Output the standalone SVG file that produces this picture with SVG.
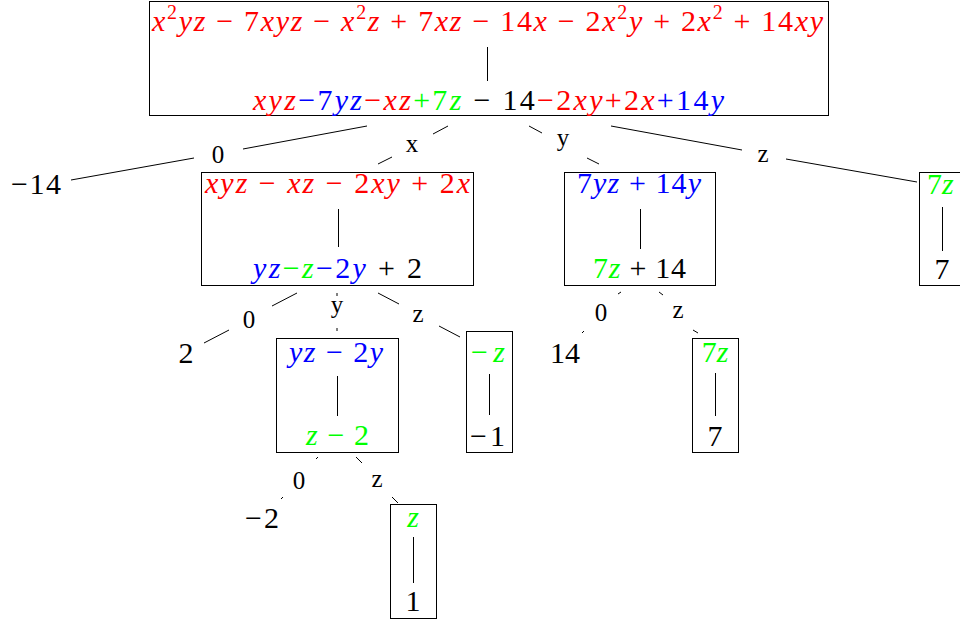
<svg xmlns="http://www.w3.org/2000/svg" width="960" height="623" viewBox="0 0 960 623">
<style>
.bx{fill:none;stroke:#000;stroke-width:1}
.e line,.bar{stroke:#000;stroke-width:1}
text{font-family:"Liberation Serif",serif;font-size:30px;fill:#000}
.i{font-style:italic}
.l{font-size:25px}
.r{fill:#f00}.b{fill:#00f}.g{fill:#0f0}.k{fill:#000}
.s{font-size:20px}
</style>
<rect width="960" height="623" fill="#fff"/>
<g id="connectors" class="e">
<line x1="367" y1="126" x2="243" y2="149"/><line x1="194" y1="158" x2="71" y2="180"/>
<line x1="448" y1="126" x2="433" y2="134"/><line x1="392" y1="157" x2="378" y2="164"/>
<line x1="529" y1="126" x2="542" y2="133"/><line x1="587" y1="158" x2="599" y2="164"/>
<line x1="611" y1="126" x2="742" y2="150"/><line x1="786" y1="159" x2="917" y2="182"/>
<line x1="297" y1="293" x2="272" y2="306"/><line x1="229" y1="330" x2="204" y2="343"/>
<line x1="337" y1="293" x2="337" y2="296"/><line x1="337" y1="328" x2="337" y2="331"/>
<line x1="378" y1="293" x2="399" y2="304"/><line x1="439" y1="326" x2="460" y2="337"/>
<line x1="621" y1="292" x2="618" y2="294"/><line x1="584" y1="331" x2="582" y2="333"/>
<line x1="659" y1="292" x2="663" y2="295"/><line x1="693" y1="330" x2="698" y2="333"/>
<line x1="318" y1="457" x2="316" y2="459"/><line x1="283" y1="497" x2="281" y2="499"/>
<line x1="356" y1="457" x2="362" y2="463"/><line x1="392" y1="497" x2="398" y2="503"/>
<text class="l" x="218" y="163" text-anchor="middle">0</text>
<text class="l" x="412" y="152" text-anchor="middle">x</text>
<text class="l" x="563" y="146" text-anchor="middle">y</text>
<text class="l" x="763" y="162" text-anchor="middle">z</text>
<text class="l" x="249" y="328" text-anchor="middle">0</text>
<text class="l" x="337" y="313" text-anchor="middle">y</text>
<text class="l" x="418" y="322" text-anchor="middle">z</text>
<text class="l" x="601" y="321" text-anchor="middle">0</text>
<text class="l" x="678" y="318" text-anchor="middle">z</text>
<text class="l" x="299" y="489" text-anchor="middle">0</text>
<text class="l" x="377" y="487" text-anchor="middle">z</text>
</g>
<g id="root">
<rect class="bx" x="149.5" y="1.5" width="679" height="114"/>
<line class="bar" x1="487.5" y1="47" x2="487.5" y2="81"/>
<text class="r" x="152" y="31" textLength="671" lengthAdjust="spacing"><tspan class="i">x</tspan><tspan class="s" dy="-12">2</tspan><tspan class="i" dy="12">yz</tspan> − 7<tspan class="i">xyz</tspan> − <tspan class="i">x</tspan><tspan class="s" dy="-12">2</tspan><tspan class="i" dy="12">z</tspan> + 7<tspan class="i">xz</tspan> − 14<tspan class="i">x</tspan> − 2<tspan class="i">x</tspan><tspan class="s" dy="-12">2</tspan><tspan class="i" dy="12">y</tspan> + 2<tspan class="i">x</tspan><tspan class="s" dy="-12">2</tspan><tspan dy="12"> + 14</tspan><tspan class="i">xy</tspan></text>
<text x="253" y="110" textLength="471" lengthAdjust="spacing"><tspan class="r i">xyz</tspan><tspan class="b">−7</tspan><tspan class="b i">yz</tspan><tspan class="r">−</tspan><tspan class="r i">xz</tspan><tspan class="g">+7</tspan><tspan class="g i">z</tspan><tspan class="k"> − 14</tspan><tspan class="r">−2</tspan><tspan class="r i">xy</tspan><tspan class="r">+2</tspan><tspan class="r i">x</tspan><tspan class="b">+14</tspan><tspan class="b i">y</tspan></text>
</g>
<g id="leaf-m14"><text x="11" y="194" textLength="50" lengthAdjust="spacing">−14</text></g>
<g id="nodeA">
<rect class="bx" x="201.5" y="172.5" width="272" height="113"/>
<line class="bar" x1="338.5" y1="209" x2="338.5" y2="247"/>
<text class="r" x="205" y="193" textLength="265" lengthAdjust="spacing"><tspan class="i">xyz</tspan> − <tspan class="i">xz</tspan> − 2<tspan class="i">xy</tspan> + 2<tspan class="i">x</tspan></text>
<text x="253" y="278" textLength="169" lengthAdjust="spacing"><tspan class="b i">yz</tspan><tspan class="g">−</tspan><tspan class="g i">z</tspan><tspan class="b">−2</tspan><tspan class="b i">y</tspan><tspan class="k"> + 2</tspan></text>
</g>
<g id="nodeB">
<rect class="bx" x="564.5" y="172.5" width="151" height="113"/>
<line class="bar" x1="640.5" y1="209" x2="640.5" y2="249"/>
<text class="b" x="577" y="193" textLength="124" lengthAdjust="spacing">7<tspan class="i">yz</tspan> + 14<tspan class="i">y</tspan></text>
<text x="593" y="278" textLength="93" lengthAdjust="spacing"><tspan class="g">7</tspan><tspan class="g i">z</tspan> + 14</text>
</g>
<g id="nodeC">
<rect class="bx" x="919.5" y="172.5" width="46" height="113"/>
<line class="bar" x1="942.5" y1="207" x2="942.5" y2="251"/>
<text class="g" x="927" y="194">7<tspan class="i">z</tspan></text>
<text x="942" y="279" text-anchor="middle">7</text>
</g>
<g id="leaf-2"><text x="186" y="363" text-anchor="middle">2</text></g>
<g id="nodeD">
<rect class="bx" x="276.5" y="338.5" width="122" height="114"/>
<line class="bar" x1="337.5" y1="376" x2="337.5" y2="416"/>
<text class="b" x="289" y="362" textLength="94" lengthAdjust="spacing"><tspan class="i">yz</tspan> − 2<tspan class="i">y</tspan></text>
<text class="g" x="306" y="445" textLength="63" lengthAdjust="spacing"><tspan class="i">z</tspan> − 2</text>
</g>
<g id="nodeE">
<rect class="bx" x="466.5" y="331.5" width="46" height="121"/>
<line class="bar" x1="489.5" y1="374" x2="489.5" y2="415"/>
<text class="g" x="471" y="362" textLength="34" lengthAdjust="spacing">−<tspan class="i">z</tspan></text>
<text x="470" y="446" textLength="35" lengthAdjust="spacing">−1</text>
</g>
<g id="leaf-14"><text x="565" y="363" text-anchor="middle">14</text></g>
<g id="nodeF">
<rect class="bx" x="692.5" y="338.5" width="46" height="114"/>
<line class="bar" x1="715.5" y1="373" x2="715.5" y2="416"/>
<text class="g" x="715" y="362" text-anchor="middle">7<tspan class="i">z</tspan></text>
<text x="715" y="446" text-anchor="middle">7</text>
</g>
<g id="leaf-m2"><text x="245" y="528" textLength="34" lengthAdjust="spacing">−2</text></g>
<g id="nodeG">
<rect class="bx" x="390.5" y="504.5" width="46" height="114"/>
<line class="bar" x1="413.5" y1="537" x2="413.5" y2="583"/>
<text class="g i" x="413" y="527" text-anchor="middle">z</text>
<text x="413" y="611" text-anchor="middle">1</text>
</g>
</svg>
